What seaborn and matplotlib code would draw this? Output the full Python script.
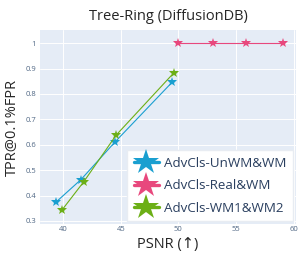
import pandas as pd
import matplotlib
matplotlib.use("Agg")
import matplotlib.pyplot as plt
import seaborn as sns
from matplotlib.lines import Line2D

# values
series_names = ["AdvCls-UnWM&WM", "AdvCls-Real&WM", "AdvCls-WM1&WM2"]
psnr_unwm = [39.4, 41.55, 44.5, 49.45]
tpr_unwm = [0.375, 0.463, 0.611, 0.846]
psnr_real = [50.0, 53.0, 55.9, 59.05]
tpr_real = [1.0, 1.0, 1.0, 1.0]
psnr_wm12 = [39.9, 41.8, 44.6, 49.6]
tpr_wm12 = [0.343, 0.455, 0.638, 0.883]
colors = ["#1A9FD0", "#E8487D", "#6CAF16"]
x_ticks = [40, 45, 50, 55, 60]
y_ticks = [0.3, 0.4, 0.5, 0.6, 0.7, 0.8, 0.9, 1.0]
y_tick_labels = ["0.3", "0.4", "0.5", "0.6", "0.7", "0.8", "0.9", "1"]


def build_frame():
    parts = []
    for name, xs, ys in zip(series_names,
                            [psnr_unwm, psnr_real, psnr_wm12],
                            [tpr_unwm, tpr_real, tpr_wm12]):
        parts.append(pd.DataFrame({"psnr": xs, "tpr": ys, "method": name}))
    return pd.concat(parts, ignore_index=True)


df = build_frame()

sns.set_style("darkgrid", {"axes.facecolor": "#E5ECF6", "grid.color": "white"})
plt.rcParams["font.family"] = ["Open Sans", "DejaVu Sans"]

fig = plt.figure(figsize=(2.99, 2.56), dpi=100)
ax = fig.add_axes([0.134, 0.125, 0.856, 0.758])

sns.lineplot(data=df, x="psnr", y="tpr", hue="method", palette=colors,
             marker="*", markersize=7, markeredgewidth=0, linewidth=0.8,
             sort=False, legend=False, ax=ax)

ax.set_xlim(38.0, 60.2)
ax.set_ylim(0.288, 1.052)
ax.set_xticks(x_ticks)
ax.set_yticks(y_ticks)
ax.set_yticklabels(y_tick_labels)
ax.tick_params(labelsize=5.5, colors="#506784", length=0)
ax.tick_params(axis="x", pad=1.5)
ax.tick_params(axis="y", pad=3)
for s in ax.spines.values():
    s.set_visible(False)
ax.grid(True, color="white", linewidth=0.7)

ax.set_title("Tree-Ring (DiffusionDB)", fontsize=10.5, pad=7)
ax.set_xlabel("PSNR (↑)", fontsize=10.5, labelpad=3)
ax.set_ylabel("TPR@0.1%FPR", fontsize=10.5, labelpad=4)

handles = [Line2D([0], [0], color=c, linewidth=2.4, marker="*", markersize=19,
                  markeredgewidth=0) for c in colors]
leg = ax.legend(handles, series_names, loc="lower right", fontsize=9.6,
                frameon=True, fancybox=False, borderaxespad=0.2,
                handlelength=1.9, handletextpad=0.4, labelspacing=0.7,
                borderpad=0.5, labelcolor="#2A3F5F")
leg.get_frame().set_facecolor("white")
leg.get_frame().set_edgecolor("#E8ECF2")
leg.get_frame().set_alpha(1)

fig.savefig("out.png", dpi=100)
